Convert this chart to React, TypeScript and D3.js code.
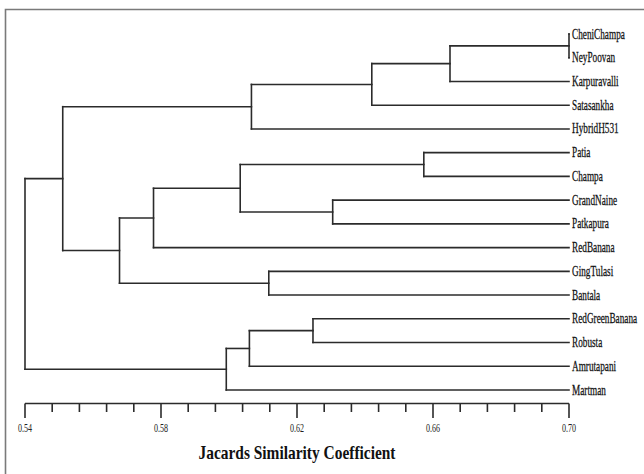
import React from "react";
import * as d3 from "d3";

// leaves, top to bottom
const leafNames = [
  "CheniChampa", "NeyPoovan", "Karpuravalli", "Satasankha", "HybridH531",
  "Patia", "Champa", "GrandNaine", "Patkapura", "RedBanana",
  "GingTulasi", "Bantala", "RedGreenBanana", "Robusta", "Amrutapani", "Martman",
];

// merge steps (m0, m1, ... refer to earlier merges)
const mergeLeft = ["CheniChampa", "m0", "m1", "m2", "Patia", "GrandNaine", "m4", "m6", "GingTulasi", "m7", "m3", "RedGreenBanana", "m11", "m12", "m10"];
const mergeRight = ["NeyPoovan", "Karpuravalli", "Satasankha", "HybridH531", "Champa", "Patkapura", "m5", "RedBanana", "Bantala", "m8", "m9", "Robusta", "Amrutapani", "Martman", "m13"];
const mergeSimilarity = [0.7, 0.665, 0.642, 0.6066, 0.6573, 0.6305, 0.6033, 0.5778, 0.6117, 0.5678, 0.5511, 0.6247, 0.606, 0.5992, 0.54];

const tickValues = d3.range(0, 21).map((i) => 0.54 + i * 0.008);
const labelTicks = [0.54, 0.58, 0.62, 0.66, 0.7];

const W = 644;
const H = 474;

const App = () => {
  const x = d3.scaleLinear().domain([0.54, 0.7]).range([25, 569]);
  const yLeaf = d3.scalePoint().domain(leafNames).range([34, 390]);
  const fmt = d3.format(".2f");

  // position of every node
  const pos: Record<string, { y: number; h: number }> = {};
  leafNames.forEach((n) => (pos[n] = { y: yLeaf(n) as number, h: 0.7 }));
  const segs: { x1: number; y1: number; x2: number; y2: number }[] = [];
  mergeLeft.forEach((l, i) => {
    const a = pos[l];
    const b = pos[mergeRight[i]];
    const h = mergeSimilarity[i];
    const xm = x(h);
    segs.push({ x1: xm, y1: a.y, x2: xm, y2: b.y });
    segs.push({ x1: xm, y1: a.y, x2: x(a.h), y2: a.y });
    segs.push({ x1: xm, y1: b.y, x2: x(b.h), y2: b.y });
    pos["m" + i] = { y: (a.y + b.y) / 2, h };
  });

  const axisY = 403.5;

  return (
    <svg width={W} height={H} style={{ position: "absolute", left: 0, top: 0, background: "#fff" }}>
      {/* frame */}
      <path d={`M5.5,${H} V9.5 H${W}`} fill="none" stroke="#7a7a7a" strokeWidth={1.6} />

      <g stroke="#2b2b2b" strokeWidth={1.6} strokeLinecap="square">
        {segs.map((s, i) => (
          <line key={i} x1={s.x1} y1={s.y1} x2={s.x2} y2={s.y2} />
        ))}
      </g>

      <g fontFamily="Liberation Serif, serif" fontSize={14} fill="#111" stroke="#111" strokeWidth={0.25}>
        {leafNames.map((n) => (
          <text key={n} transform={`translate(${x(0.7) + 3},${(yLeaf(n) as number) + 4.5}) scale(0.66,1)`}>
            {n}
          </text>
        ))}
      </g>

      {/* axis */}
      <g stroke="#2b2b2b" strokeWidth={1.6}>
        <line x1={x(0.54)} x2={x(0.7)} y1={axisY} y2={axisY} />
        {tickValues.map((t, i) => (
          <line key={i} x1={x(t)} x2={x(t)} y1={axisY} y2={i % 5 === 0 ? 418 : 412} />
        ))}
      </g>
      <g fontFamily="Liberation Serif, serif" fontSize={11.5} fill="#222">
        {labelTicks.map((t) => (
          <text key={t} textAnchor="middle" transform={`translate(${x(t)},432) scale(0.7,1)`}>
            {fmt(t)}
          </text>
        ))}
      </g>
      <text
        x={x(0.62)}
        y={459}
        textAnchor="middle"
        fontFamily="Liberation Serif, serif"
        fontWeight="bold"
        fontSize={19}
        fill="#111"
        textLength={197}
        lengthAdjust="spacingAndGlyphs"
      >
        Jacards Similarity Coefficient
      </text>
    </svg>
  );
};

export default App;
